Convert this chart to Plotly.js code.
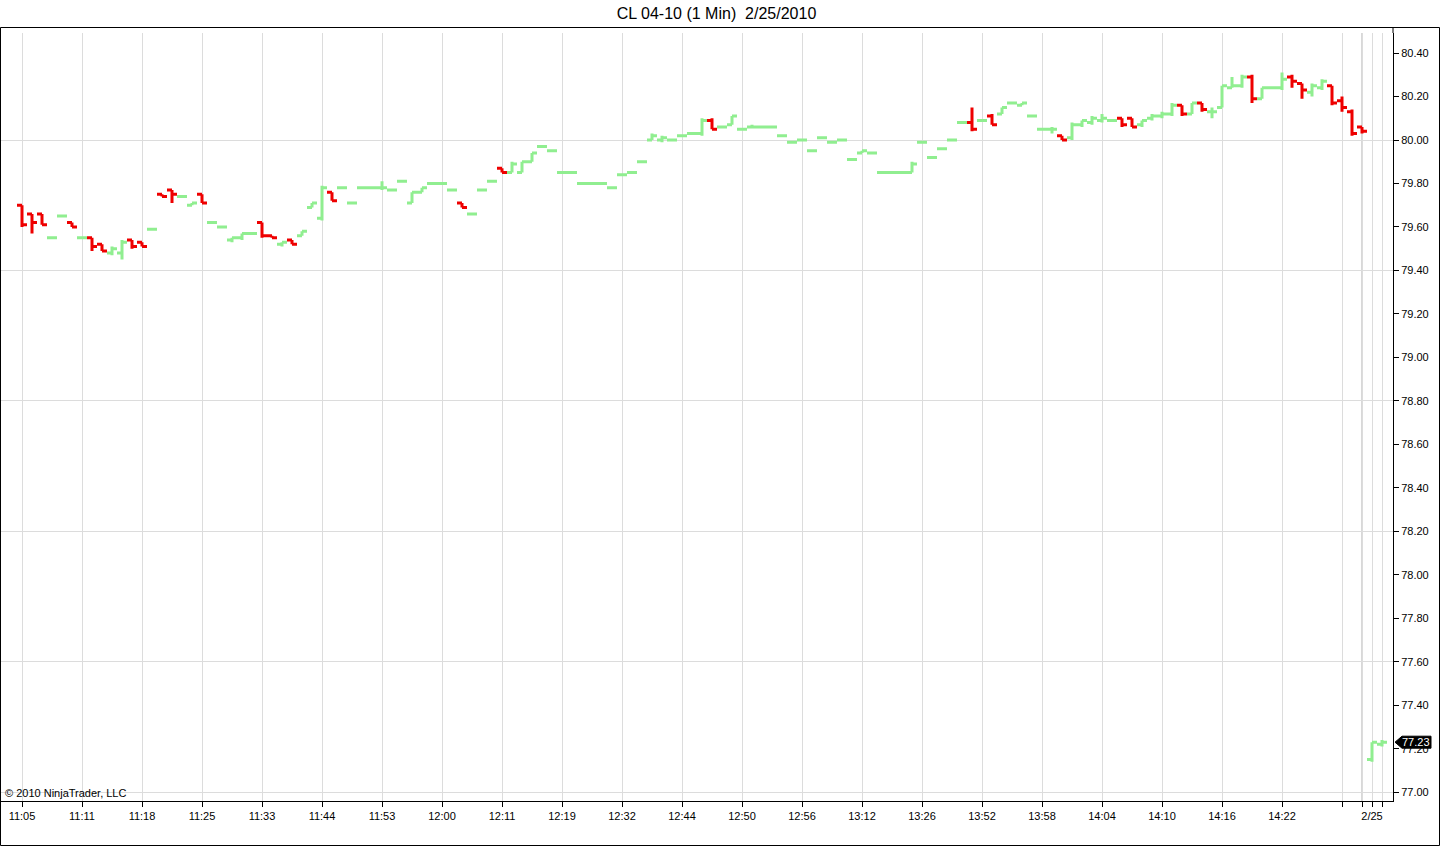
<!DOCTYPE html>
<html>
<head>
<meta charset="utf-8">
<script src="https://cdn.plot.ly/plotly-3.0.1.min.js"></script>
<style>
html,body{margin:0;padding:0;background:#fff;}
#chart{width:1440px;height:846px;}
</style>
</head>
<body>
<div id="chart"></div>
<script>
// ---------------- data ----------------
const chartTitle = "CL 04-10 (1 Min)\u00a0\u00a02/25/2010";
const copyrightText = "\u00a9 2010 NinjaTrader, LLC";

const openPrices = [
  79.70,79.66,79.66,79.55,79.65,79.62,79.55,79.55,79.52,79.48,
  79.48,79.54,79.53,79.59,79.75,79.77,79.74,79.70,79.75,79.62,
  79.60,79.54,79.55,79.57,79.62,79.56,79.52,79.54,79.56,79.69,
  79.64,79.76,79.78,79.71,79.78,79.78,79.78,79.77,79.81,79.71,
  79.76,79.80,79.80,79.77,79.71,79.66,79.77,79.81,79.87,79.85,
  79.85,79.90,79.97,79.95,79.85,79.85,79.80,79.80,79.80,79.78,
  79.84,79.85,79.90,80.00,80.00,80.00,80.02,80.03,80.03,80.09,
  80.06,80.07,80.05,80.06,80.06,80.06,80.02,79.99,80.00,79.95,
  80.01,79.99,80.00,79.91,79.94,79.94,79.85,79.85,79.85,79.85,
  79.99,79.92,79.96,80.00,80.08,80.08,80.09,80.11,80.12,80.17,
  80.16,80.11,80.05,80.05,80.02,80.01,80.07,80.08,80.09,80.09,
  80.10,80.10,80.07,80.10,80.11,80.12,80.16,80.12,80.17,80.13,
  80.15,80.24,80.25,80.29,80.19,80.24,80.24,80.29,80.26,80.22,
  80.24,80.25,80.18,80.13,80.06,77.15,77.22
];
const highPrices = [
  79.70,79.66,79.66,79.55,79.65,79.62,79.55,79.55,79.52,79.51,
  79.54,79.54,79.53,79.59,79.75,79.77,79.74,79.71,79.75,79.62,
  79.60,79.55,79.57,79.57,79.62,79.56,79.53,79.54,79.58,79.71,
  79.79,79.76,79.78,79.71,79.78,79.78,79.81,79.77,79.81,79.76,
  79.78,79.80,79.80,79.77,79.71,79.66,79.77,79.81,79.87,79.90,
  79.90,79.94,79.97,79.95,79.85,79.85,79.80,79.80,79.80,79.78,
  79.84,79.85,79.90,80.03,80.02,80.00,80.02,80.03,80.10,80.10,
  80.06,80.11,80.05,80.07,80.06,80.06,80.02,79.99,80.00,79.95,
  80.01,79.99,80.00,79.91,79.95,79.94,79.85,79.85,79.85,79.90,
  79.99,79.92,79.96,80.00,80.08,80.15,80.09,80.12,80.15,80.17,
  80.17,80.11,80.05,80.06,80.02,80.08,80.09,80.11,80.12,80.09,
  80.10,80.10,80.09,80.12,80.13,80.17,80.16,80.17,80.17,80.15,
  80.25,80.29,80.30,80.30,80.24,80.24,80.31,80.30,80.26,80.26,
  80.28,80.25,80.20,80.14,80.06,77.23,77.24
];
const lowPrices = [
  79.60,79.57,79.61,79.55,79.65,79.60,79.55,79.49,79.49,79.47,
  79.45,79.50,79.51,79.59,79.74,79.71,79.74,79.70,79.71,79.62,
  79.60,79.53,79.54,79.57,79.55,79.55,79.51,79.52,79.56,79.69,
  79.63,79.72,79.78,79.71,79.78,79.78,79.77,79.77,79.81,79.71,
  79.76,79.80,79.80,79.77,79.69,79.66,79.77,79.81,79.85,79.85,
  79.85,79.90,79.97,79.95,79.85,79.85,79.80,79.80,79.80,79.78,
  79.84,79.85,79.90,80.00,79.99,80.00,80.02,80.03,80.02,80.05,
  80.06,80.07,80.05,80.06,80.06,80.06,80.02,79.99,80.00,79.95,
  80.01,79.99,80.00,79.91,79.94,79.94,79.85,79.85,79.85,79.85,
  79.99,79.92,79.96,80.00,80.08,80.04,80.09,80.07,80.12,80.17,
  80.16,80.11,80.05,80.03,80.00,80.00,80.06,80.07,80.08,80.09,
  80.06,80.06,80.06,80.09,80.10,80.11,80.11,80.12,80.13,80.10,
  80.15,80.24,80.24,80.17,80.19,80.24,80.23,80.24,80.19,80.20,
  80.23,80.16,80.13,80.02,80.03,77.14,77.21
];
const closePrices = [
  79.61,79.62,79.61,79.55,79.65,79.60,79.55,79.51,79.49,79.50,
  79.53,79.51,79.51,79.59,79.74,79.75,79.74,79.71,79.71,79.62,
  79.60,79.55,79.57,79.57,79.56,79.55,79.53,79.52,79.58,79.71,
  79.78,79.72,79.78,79.71,79.78,79.78,79.78,79.77,79.81,79.76,
  79.78,79.80,79.80,79.77,79.69,79.66,79.77,79.81,79.85,79.89,
  79.90,79.94,79.97,79.95,79.85,79.85,79.80,79.80,79.80,79.78,
  79.84,79.85,79.90,80.02,80.01,80.00,80.02,80.03,80.09,80.05,
  80.06,80.11,80.05,80.06,80.06,80.06,80.02,79.99,80.00,79.95,
  80.01,79.99,80.00,79.91,79.95,79.94,79.85,79.85,79.85,79.89,
  79.99,79.92,79.96,80.00,80.08,80.05,80.09,80.07,80.15,80.17,
  80.17,80.11,80.05,80.05,80.00,80.07,80.09,80.10,80.10,80.09,
  80.07,80.06,80.09,80.11,80.12,80.16,80.12,80.17,80.14,80.13,
  80.25,80.25,80.29,80.19,80.24,80.24,80.28,80.27,80.23,80.25,
  80.27,80.17,80.15,80.03,80.04,77.23,77.23
];

// bar numbers carrying a time label on the x axis
const tickBars   = [0,6,12,18,24,30,36,42,48,54,60,66,72,78,84,90,96,102,108,114,120,126,132,134,135,136];
const tickLabels = ["11:05","11:11","11:18","11:25","11:33","11:44","11:53","12:00","12:11","12:19","12:32","12:44",
                    "12:50","12:56","13:12","13:26","13:52","13:58","14:04","14:10","14:16","14:22","","","2/25",""];
const sessionBreakBar = 134;

// ---------------- build ----------------
const barNumbers = openPrices.map((_, i) => i);
const upBars = {x:[],open:[],high:[],low:[],close:[]};
const downBars = {x:[],open:[],high:[],low:[],close:[]};
barNumbers.forEach(i => {
  const t = closePrices[i] < openPrices[i] ? downBars : upBars;
  t.x.push(i); t.open.push(openPrices[i]); t.high.push(highPrices[i]);
  t.low.push(lowPrices[i]); t.close.push(closePrices[i]);
});

const GREEN = '#90ee90', RED = '#ee0000', LW = 3, TW = 0.5;
function ohlcTrace(d, color) {
  return {
    type: 'ohlc', x: d.x, open: d.open, high: d.high, low: d.low, close: d.close,
    increasing: {line: {color: color, width: LW}},
    decreasing: {line: {color: color, width: LW}},
    tickwidth: TW, showlegend: false, hoverinfo: 'x+y'
  };
}

const yRange = [76.9595, 80.4922];
const lastClose = closePrices[closePrices.length - 1];
const FONT = '"Liberation Sans", Arial, Helvetica, sans-serif';

const data = [
  {type: 'scatter', x: [], y: [], yaxis: 'y2', showlegend: false, hoverinfo: 'skip'},
  ohlcTrace(upBars, GREEN),
  ohlcTrace(downBars, RED)
];

const layout = {
  width: 1440, height: 846,
  margin: {l: 1, r: 47, t: 33, b: 45, pad: 0},
  paper_bgcolor: '#ffffff', plot_bgcolor: '#ffffff',
  showlegend: false,
  font: {family: FONT, size: 11, color: '#000'},
  title: {text: chartTitle, x: 0.4976, xref: 'container', xanchor: 'center',
          y: 1 - 13/846, yref: 'container', yanchor: 'middle',
          font: {family: FONT, size: 16, color: '#000'}},
  xaxis: {
    range: [-2.1, 137.1], tickmode: 'array', tickvals: tickBars, ticktext: tickLabels,
    ticks: 'outside', ticklen: 5, tickcolor: '#000', tickwidth: 1,
    showline: true, linecolor: '#000', linewidth: 1,
    showgrid: true, gridcolor: '#dcdcdc', gridwidth: 1, zeroline: false,
    rangeslider: {visible: false}, fixedrange: true,
    tickfont: {family: FONT, size: 11, color: '#000'}
  },
  yaxis: {
    range: yRange, side: 'right', tickmode: 'linear', tick0: 77, dtick: 0.2, tickformat: '.2f',
    ticks: 'outside', ticklen: 5, tickcolor: '#000', tickwidth: 1,
    showline: true, linecolor: '#000', linewidth: 1,
    showgrid: false, zeroline: false, fixedrange: true,
    tickfont: {family: FONT, size: 11, color: '#000'}
  },
  yaxis2: {
    range: yRange, overlaying: 'y', side: 'right', tickmode: 'linear', tick0: 77, dtick: 0.6,
    showgrid: true, gridcolor: '#dcdcdc', gridwidth: 1, showticklabels: false, ticks: '',
    showline: false, zeroline: false, fixedrange: true
  },
  shapes: [
    // session break line
    {type: 'line', xref: 'x', x0: sessionBreakBar, x1: sessionBreakBar, yref: 'paper', y0: 0, y1: 1,
     line: {color: '#b0b0b0', width: 1}, layer: 'below'},
    // outer frame
    {type: 'rect', xref: 'paper', xsizemode: 'pixel', xanchor: 0, x0: -0.5, x1: 1438.5,
     yref: 'paper', ysizemode: 'pixel', yanchor: 0, y0: -44.5, y1: 773.5,
     line: {color: '#000', width: 1}, fillcolor: 'rgba(0,0,0,0)', layer: 'above'},
    // right axis line up to frame
    {type: 'line', xref: 'paper', x0: 1, x1: 1, yref: 'paper', ysizemode: 'pixel', yanchor: 1, y0: 0, y1: 6,
     line: {color: '#000', width: 1}, layer: 'above'},
    // last price tag
    {type: 'path', xref: 'paper', xsizemode: 'pixel', xanchor: 1,
     yref: 'y', ysizemode: 'pixel', yanchor: lastClose,
     path: 'M 2 0 L 9 6 L 38 6 L 38 -6 L 9 -6 Z',
     fillcolor: '#000', line: {color: '#000', width: 1}, layer: 'above'}
  ],
  annotations: [
    {text: copyrightText, xref: 'paper', x: 0, xanchor: 'left', xshift: 2,
     yref: 'paper', y: 0, yanchor: 'bottom', yshift: 0, showarrow: false,
     font: {family: FONT, size: 11, color: '#000'}},
    {text: lastClose.toFixed(2), xref: 'paper', x: 1, xanchor: 'center', xshift: 23,
     yref: 'y', y: lastClose, yanchor: 'middle', showarrow: false,
     font: {family: FONT, size: 11, color: '#fff'}}
  ]
};

Plotly.newPlot('chart', data, layout, {displayModeBar: false, staticPlot: true});
</script>
</body>
</html>
